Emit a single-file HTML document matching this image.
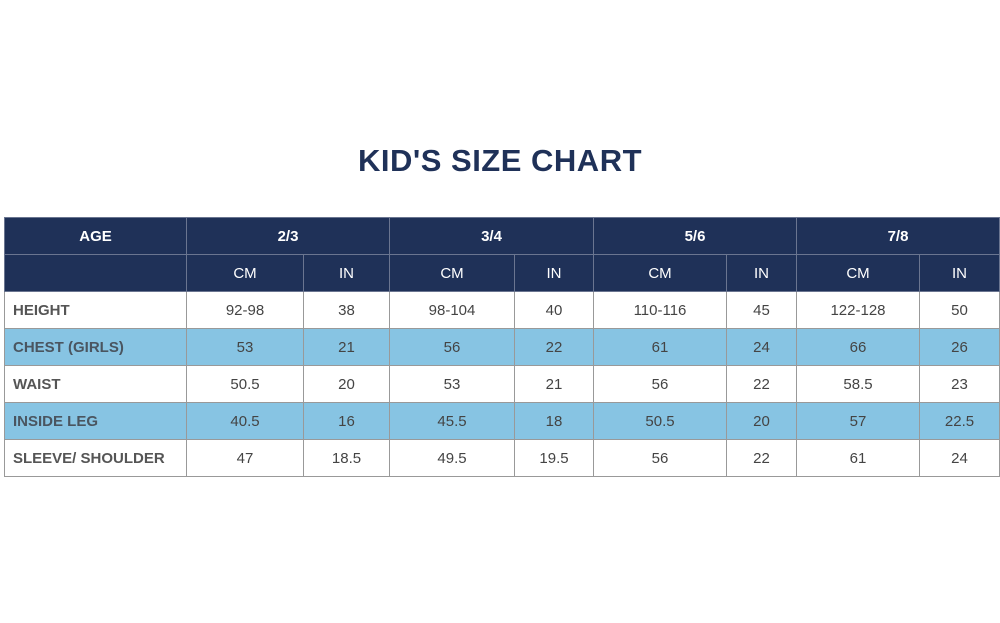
<!DOCTYPE html>
<html><head><style>
body{margin:0;width:1000px;height:623px;background:#fff;position:relative;font-family:"Liberation Sans",sans-serif;overflow:hidden}
h1{position:absolute;top:143px;left:0;width:1000px;text-align:center;margin:0;font-size:31px;color:#1f3158;font-weight:bold;letter-spacing:0.5px}
table{position:absolute;left:4px;top:217px;border-collapse:collapse;font-size:15px;color:#444}
td{border:1px solid #999;height:36px;padding:0;text-align:center}
.h td{background:#1f3158;color:#fff;border-color:#6a7590;font-weight:bold}
.h2 td{font-weight:normal}
.b td{background:#87c4e3}
td.l{text-align:left;padding-left:8px;font-weight:bold;color:#555}
.b td.l{color:#4a5560}
</style></head><body>
<h1>KID'S SIZE CHART</h1>
<table>
<colgroup><col style="width:182px"><col style="width:117px"><col style="width:86px"><col style="width:125px"><col style="width:79px"><col style="width:133px"><col style="width:70px"><col style="width:123px"><col style="width:80px"></colgroup>
<tr class="h"><td>AGE</td><td colspan="2">2/3</td><td colspan="2">3/4</td><td colspan="2">5/6</td><td colspan="2">7/8</td></tr>
<tr class="h h2"><td></td><td>CM</td><td>IN</td><td>CM</td><td>IN</td><td>CM</td><td>IN</td><td>CM</td><td>IN</td></tr>
<tr><td class="l">HEIGHT</td><td>92-98</td><td>38</td><td>98-104</td><td>40</td><td>110-116</td><td>45</td><td>122-128</td><td>50</td></tr>
<tr class="b"><td class="l">CHEST (GIRLS)</td><td>53</td><td>21</td><td>56</td><td>22</td><td>61</td><td>24</td><td>66</td><td>26</td></tr>
<tr><td class="l">WAIST</td><td>50.5</td><td>20</td><td>53</td><td>21</td><td>56</td><td>22</td><td>58.5</td><td>23</td></tr>
<tr class="b"><td class="l">INSIDE LEG</td><td>40.5</td><td>16</td><td>45.5</td><td>18</td><td>50.5</td><td>20</td><td>57</td><td>22.5</td></tr>
<tr><td class="l">SLEEVE/ SHOULDER</td><td>47</td><td>18.5</td><td>49.5</td><td>19.5</td><td>56</td><td>22</td><td>61</td><td>24</td></tr>
</table>
</body></html>
